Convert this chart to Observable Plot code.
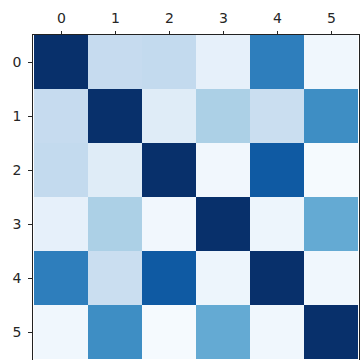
<!DOCTYPE html>
<html><head><meta charset="utf-8">
<script src="https://cdn.jsdelivr.net/npm/d3@7"></script>
<script src="https://cdn.jsdelivr.net/npm/@observablehq/plot@0.6"></script>
<style>
html,body{margin:0;padding:0;background:#fff;overflow:hidden;}
svg{display:block;}
</style>
</head><body>
<div id="chart"></div>
<script>
const labels = [0, 1, 2, 3, 4, 5];
const matrix = [
  [1.00, 0.25, 0.26, 0.085, 0.70, 0.035],
  [0.25, 1.00, 0.12, 0.33, 0.23, 0.64],
  [0.26, 0.12, 1.00, 0.03, 0.84, 0.01],
  [0.085, 0.33, 0.03, 1.00, 0.05, 0.52],
  [0.70, 0.23, 0.84, 0.05, 1.00, 0.035],
  [0.035, 0.64, 0.01, 0.52, 0.035, 1.00]
];
const bluesStops = ["#f7fbff","#deebf7","#c6dbef","#9ecae1","#6baed6","#4292c6","#2171b5","#08519c","#08306b"];

const cells = [];
matrix.forEach((row, i) => row.forEach((v, j) => cells.push({row: labels[i], col: labels[j], value: v})));

const chart = Plot.plot({
  width: 360,
  height: 360,
  marginLeft: 32,
  marginTop: 34,
  marginRight: 1,
  marginBottom: 0,
  style: {fontFamily: "DejaVu Sans", fontSize: "14px", color: "#262626", background: "#fff"},
  x: {type: "band", domain: labels, padding: 0, axis: "top", label: null, tickSize: 4, tickPadding: 8},
  y: {type: "band", domain: labels, padding: 0, axis: "left", label: null, tickSize: 4, tickPadding: 7},
  color: {type: "linear", domain: [0, 1], interpolate: d3.piecewise(d3.interpolateRgb, bluesStops)},
  marks: [
    Plot.cell(cells, {x: "col", y: "row", fill: "value", inset: 0}),
    Plot.frame({stroke: "#222", strokeWidth: 1})
  ]
});
document.getElementById("chart").appendChild(chart);
</script>
</body></html>
